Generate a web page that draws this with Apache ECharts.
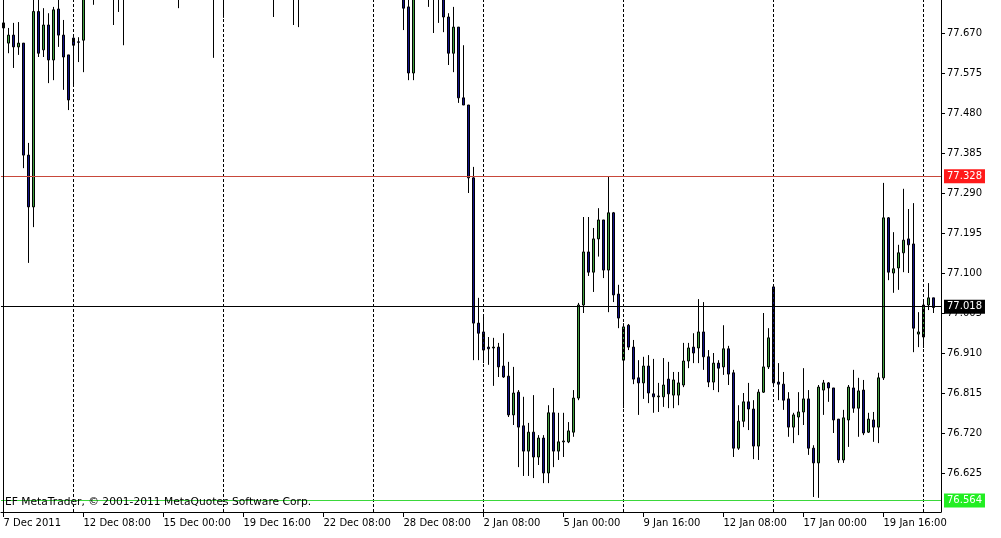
<!DOCTYPE html>
<html>
<head>
<meta charset="utf-8">
<script src="https://cdn.jsdelivr.net/npm/echarts@6/dist/echarts.min.js"></script>
<style>html,body{margin:0;padding:0;background:#fff;}#c{width:1001px;height:538px;}</style>
</head>
<body>
<div id="c"></div>
<script>
// ---- data (H4 bars, index 0 = 7 Dec 2011 16:00) ----
const opens = [
77.694,77.646,77.665,77.637,77.646,77.380,77.257,77.721,77.630,77.689,
77.606,77.727,77.665,77.618,77.658,77.649,77.653,77.760,77.795,77.780,
77.805,77.790,77.800,77.775,77.790,77.770,77.810,77.835,77.820,77.850,
77.840,77.870,77.860,77.835,77.810,77.795,77.780,77.810,77.830,77.815,
77.800,77.820,77.790,77.805,77.830,77.800,77.840,77.870,77.900,77.885,
77.910,77.890,77.860,77.840,77.820,77.800,77.830,77.815,77.800,77.790,
77.810,77.840,77.865,77.850,77.880,77.905,77.890,77.920,77.945,77.930,
77.900,77.915,77.890,77.870,77.880,77.855,77.840,77.850,77.825,77.800,
77.785,77.732,77.575,77.765,77.790,77.775,77.785,77.770,77.780,77.708,
77.622,77.684,77.516,77.499,77.326,76.981,76.960,76.924,76.922,76.924,
76.879,76.855,76.763,76.817,76.737,76.677,76.722,76.663,76.708,76.625,
76.768,76.677,76.699,76.699,76.722,76.803,77.024,77.150,77.102,77.181,
77.226,77.107,77.243,77.050,76.893,76.976,76.924,76.851,76.839,76.879,
76.813,76.806,76.806,76.848,76.810,76.810,76.834,76.891,76.924,76.922,
76.960,76.901,76.841,76.886,76.877,76.920,76.863,76.684,76.748,76.794,
76.777,76.689,76.817,76.877,77.067,76.841,76.836,76.801,76.734,76.758,
76.770,76.801,76.684,76.649,76.822,76.839,76.827,76.753,76.656,76.751,
76.827,76.779,76.822,76.722,76.751,76.734,76.851,77.231,77.100,77.112,
77.148,77.181,77.169,76.955,76.948,77.024,77.041
];
const closes = [
77.682,77.665,77.637,77.646,77.380,77.257,77.721,77.622,77.689,77.606,
77.725,77.665,77.613,77.511,77.641,77.648,77.760,77.795,77.780,77.805,
77.790,77.800,77.775,77.790,77.770,77.810,77.835,77.820,77.850,77.840,
77.870,77.860,77.835,77.810,77.795,77.780,77.810,77.830,77.815,77.800,
77.820,77.790,77.805,77.830,77.800,77.840,77.870,77.900,77.885,77.910,
77.890,77.860,77.840,77.820,77.800,77.830,77.815,77.800,77.790,77.810,
77.840,77.865,77.850,77.880,77.905,77.890,77.920,77.945,77.930,77.900,
77.915,77.890,77.870,77.880,77.855,77.840,77.850,77.825,77.800,77.785,
77.729,77.575,77.765,77.790,77.775,77.785,77.770,77.780,77.708,77.622,
77.684,77.516,77.499,77.326,76.981,76.957,76.917,76.920,76.924,76.877,
76.853,76.763,76.815,76.734,76.677,76.722,76.663,76.708,76.625,76.768,
76.677,76.699,76.701,76.725,76.803,77.024,77.150,77.102,77.181,77.226,
77.107,77.243,77.048,76.993,76.972,76.924,76.848,76.839,76.879,76.815,
76.806,76.808,76.834,76.813,76.846,76.839,76.891,76.922,76.910,76.960,
76.901,76.841,76.886,76.874,76.920,76.860,76.684,76.748,76.794,76.777,
76.689,76.817,76.877,76.946,76.839,76.836,76.798,76.734,76.763,76.770,
76.801,76.684,76.649,76.829,76.839,76.827,76.751,76.656,76.756,76.829,
76.779,76.820,76.720,76.753,76.734,76.851,77.231,77.102,77.110,77.148,
77.178,77.167,76.969,76.960,77.024,77.041,77.018
];
const lows = [
77.670,77.622,77.587,77.618,77.349,77.124,77.209,77.613,77.613,77.551,
77.558,77.637,77.535,77.487,77.542,77.601,77.577,77.755,77.737,77.770,
77.775,77.770,77.689,77.720,77.641,77.760,77.800,77.805,77.810,77.825,
77.830,77.845,77.820,77.790,77.770,77.729,77.770,77.795,77.800,77.780,
77.785,77.775,77.611,77.790,77.706,77.790,77.830,77.860,77.870,77.875,
77.870,77.845,77.815,77.790,77.708,77.790,77.795,77.780,77.689,77.684,
77.800,77.830,77.835,77.840,77.870,77.875,77.880,77.905,77.910,77.885,
77.885,77.870,77.850,77.855,77.840,77.820,77.825,77.810,77.785,77.770,
77.677,77.558,77.558,77.760,77.760,77.732,77.670,77.694,77.672,77.594,
77.577,77.504,77.499,77.290,76.893,76.893,76.886,76.882,76.832,76.853,
76.851,76.758,76.739,76.639,76.618,76.618,76.613,76.644,76.601,76.601,
76.639,76.656,76.663,76.696,76.711,76.798,77.005,77.093,77.055,77.139,
77.088,77.007,77.031,76.969,76.779,76.917,76.836,76.763,76.801,76.791,
76.768,76.770,76.782,76.779,76.779,76.786,76.829,76.874,76.886,76.886,
76.870,76.829,76.822,76.817,76.858,76.834,76.663,76.680,76.734,76.727,
76.658,76.656,76.815,76.872,76.829,76.798,76.775,76.711,76.696,76.715,
76.739,76.668,76.568,76.566,76.763,76.794,76.720,76.649,76.649,76.687,
76.768,76.711,76.715,76.720,76.699,76.696,76.846,77.083,77.053,77.060,
77.102,77.100,76.912,76.924,76.922,77.012,77.005
];
const highs = [
77.708,77.682,77.694,77.696,77.646,77.409,77.770,77.760,77.729,77.717,
77.732,77.750,77.701,77.618,77.660,77.660,77.790,77.810,77.820,77.825,
77.830,77.815,77.820,77.805,77.800,77.825,77.850,77.855,77.870,77.865,
77.890,77.885,77.875,77.845,77.825,77.810,77.825,77.845,77.850,77.830,
77.835,77.830,77.815,77.845,77.840,77.855,77.885,77.915,77.920,77.930,
77.925,77.900,77.870,77.850,77.830,77.845,77.850,77.825,77.815,77.825,
77.855,77.880,77.885,77.900,77.925,77.920,77.940,77.960,77.955,77.940,
77.930,77.925,77.900,77.895,77.890,77.865,77.870,77.860,77.835,77.815,
77.800,77.750,77.780,77.805,77.810,77.800,77.800,77.795,77.795,77.717,
77.732,77.684,77.641,77.499,77.352,77.041,77.000,76.948,76.946,76.934,
76.957,76.889,76.877,76.822,76.806,76.744,76.810,76.715,76.715,76.786,
76.827,76.768,76.768,76.746,76.822,77.029,77.233,77.233,77.207,77.254,
77.226,77.328,77.245,77.072,76.981,76.979,76.941,76.893,76.901,76.905,
76.896,76.839,76.898,76.889,76.865,76.865,76.934,76.934,76.957,77.038,
77.031,76.917,76.910,76.893,76.976,76.927,76.870,76.786,76.815,76.839,
76.798,76.824,77.005,76.969,77.072,76.886,76.865,76.817,76.768,76.817,
76.874,76.822,76.691,76.834,76.846,76.841,76.827,76.753,76.775,76.834,
76.870,76.851,76.846,76.768,76.770,76.863,77.314,77.233,77.197,77.167,
77.300,77.252,77.266,77.007,77.031,77.076,77.041
];
const slotCount = 188;                       // bars + right shift slot
const categories = Array.from({length: slotCount}, (_, i) => String(i));
const xTickIdx  = [0,16,32,48,64,80,96,112,128,144,160,176];
const xTickText = ['7 Dec 2011','12 Dec 08:00','15 Dec 00:00','19 Dec 16:00','22 Dec 08:00','28 Dec 08:00',
                   '2 Jan 08:00','5 Jan 00:00','9 Jan 16:00','12 Jan 08:00','17 Jan 00:00','19 Jan 16:00'];
const weekSeparators = [14,44,74,96,124,154,184];
const yTicks = [76.625,76.720,76.815,76.910,77.005,77.100,77.195,77.290,77.385,77.480,77.575,77.670];
const yMin = 76.5324, yMax = 77.7484;
const levelLines = [
  {value: 77.328, line: '#c8483a', box: '#ff1a1a'},
  {value: 77.018, line: '#000000', box: '#000000'},
  {value: 76.564, line: '#3ad83a', box: '#22ee22'}
];

const FONT = 'DejaVu Sans';
const candles = opens.map((o, i) => [o, closes[i], lows[i], highs[i]]);

const markData = [];
weekSeparators.forEach(ix => markData.push({
  xAxis: ix, lineStyle: {color: '#000', width: 1, type: [3, 2]}, label: {show: false}
}));
levelLines.forEach(l => markData.push({
  yAxis: l.value,
  lineStyle: {color: l.line, width: 1, type: 'solid'},
  label: {
    show: true, position: 'end', distance: 3,
    formatter: l.value.toFixed(3),
    backgroundColor: l.box, color: '#fff',
    fontFamily: FONT, fontSize: 10, padding: [2, 3, 2, 3]
  }
}));

const tickShown = (i) => xTickIdx.indexOf(i) >= 0;

const chart = echarts.init(document.getElementById('c'), null, {renderer: 'canvas'});
chart.setOption({
  animation: false,
  backgroundColor: '#fff',
  grid: {left: 1, right: 60, top: 0, bottom: 26, containLabel: false},
  xAxis: {
    type: 'category', data: categories, boundaryGap: true,
    axisLine: {show: true, lineStyle: {color: '#000', width: 1}},
    axisTick: {show: true, interval: (i) => tickShown(i), alignWithLabel: true, length: 5, lineStyle: {color: '#000'}},
    axisLabel: {
      interval: (i) => tickShown(i), hideOverlap: false,
      formatter: (v, i) => { const k = xTickIdx.indexOf(Number(v)); return k >= 0 ? xTickText[k] : ''; },
      align: 'left', margin: 6, color: '#000', fontFamily: FONT, fontSize: 10
    },
    splitLine: {show: false}
  },
  yAxis: {
    type: 'value', position: 'right', min: yMin, max: yMax, scale: true,
    axisLine: {show: true, lineStyle: {color: '#000', width: 1}},
    axisTick: {show: true, length: 4, customValues: yTicks, lineStyle: {color: '#000'}},
    axisLabel: {customValues: yTicks, formatter: (v) => Number(v).toFixed(3), margin: 6,
                color: '#000', fontFamily: FONT, fontSize: 10},
    splitLine: {show: false}
  },
  graphic: [
    {type: 'line', shape: {x1: 3.5, y1: 0, x2: 3.5, y2: 512}, style: {stroke: '#000', lineWidth: 1}, z: 10},
    {type: 'text', x: 5, y: 502, z: 10,
     style: {text: 'EF MetaTrader, © 2001-2011 MetaQuotes Software Corp.', fill: '#000',
             font: '10.7px "DejaVu Sans"', textVerticalAlign: 'middle'}}
  ],
  series: [{
    type: 'candlestick',
    data: candles,
    barWidth: 3,
    clip: true,
    itemStyle: {color: '#3fa03f', color0: '#12128a', borderColor: '#000', borderColor0: '#000', borderWidth: 1},
    markLine: {
      silent: true, symbol: ['none', 'none'], animation: false,
      label: {show: false},
      data: markData
    }
  }]
});
</script>
</body>
</html>
